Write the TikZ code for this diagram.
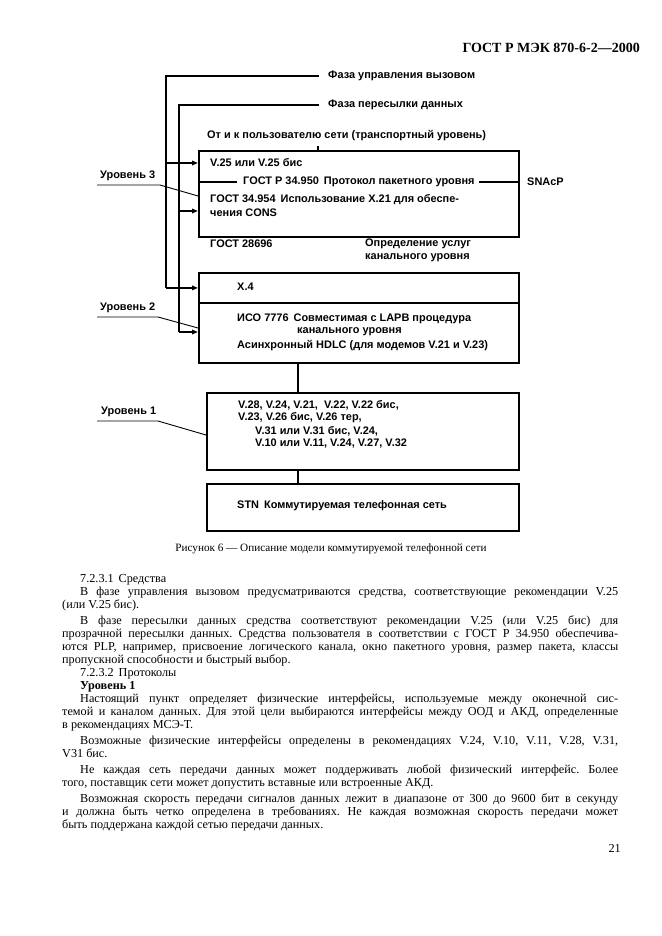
\documentclass[tikz,border=0pt]{standalone}
\usepackage{fontspec}
\setmainfont{Liberation Serif}[WordSpace={1,1.6,1.8}]
\newfontfamily\dsans{Liberation Sans}
\usetikzlibrary{arrows.meta}
\frenchspacing
\begin{document}
\begin{tikzpicture}[x=1pt,y=-1pt,
  boxnode/.style={draw, line width=1.8pt, anchor=north west, inner sep=0pt},
  dtxt/.style={font=\dsans\bfseries\fontsize{10.95}{13}\selectfont, inner sep=0pt, anchor=west},
  btxt/.style={font=\fontsize{12.2}{13}\selectfont, inner sep=0pt, anchor=base west},
  wire/.style={line width=1.6pt},
  arr/.style={line width=1.6pt, -{Triangle[length=6pt,width=4.5pt]}},
  lvl/.style={line width=0.9pt}]
\useasboundingbox (0,0) rectangle (661,936);
\fill[white] (0,0) rectangle (661,936);

% header
\node[font=\bfseries\fontsize{14}{16}\selectfont, inner sep=0pt, anchor=base east] (hdr) at (640,53) {ГОСТ Р МЭК 870-6-2—2000};

% boxes
\node[boxnode, minimum width=320pt, minimum height=86pt] (b1) at (198,150) {};
\node[boxnode, minimum width=320pt, minimum height=30pt] (b2a) at (198,272) {};
\node[boxnode, minimum width=320pt, minimum height=60pt] (b2b) at (198,302) {};
\node[boxnode, minimum width=312pt, minimum height=77pt] (b3) at (206,392) {};
\node[boxnode, minimum width=312pt, minimum height=47pt] (b4) at (206,483) {};

% phase labels
\node[dtxt] (ph1) at (328,76) {Фаза управления вызовом};
\node[dtxt] (ph2) at (328,105) {Фаза пересылки данных};
\node[dtxt] (tr) at (207,136) {От и к пользователю сети (транспортный уровень)};

% box 1 text
\node[dtxt] (v25) at (210,163) {V.25 или V.25 бис};
\node[dtxt] (g950) at (243,182) {ГОСТ Р 34.950\hspace{5pt}Протокол пакетного уровня};
\node[dtxt] (snacp) at (527,182) {SNAcP};
\node[dtxt] (g954) at (210,200) {ГОСТ 34.954\hspace{5pt}Использование X.21 для обеспе-};
\node[dtxt] (cons) at (210,213) {чения CONS};

% between
\node[dtxt] (g286) at (210,244) {ГОСТ 28696};
\node[dtxt] (opr1) at (365,244) {Определение услуг};
\node[dtxt] (opr2) at (365,258) {канального уровня};

% box 2 text
\node[dtxt] (x4) at (237,287) {X.4};
\node[dtxt] (iso) at (237,319) {ИСО 7776\hspace{5pt}Совместимая с LAPB процедура};
\node[dtxt] (kan) at (297,332) {канального уровня};
\node[dtxt] (asy) at (237,346) {Асинхронный HDLC (для модемов V.21 и V.23)};

% box 3 text
\node[dtxt] (r1) at (238,405) {V.28, V.24, V.21,\ \ V.22, V.22 бис,};
\node[dtxt] (r2) at (238,418) {V.23, V.26 бис, V.26 тер,};
\node[dtxt] (r3) at (255,431) {V.31 или V.31 бис, V.24,};
\node[dtxt] (r4) at (255,444) {V.10 или V.11, V.24, V.27, V.32};

% box 4 text
\node[dtxt] (stn) at (237,506) {STN\hspace{5pt}Коммутируемая телефонная сеть};

% level labels
\node[dtxt] (l3) at (100,176) {Уровень 3};
\node[dtxt] (l2) at (100,308) {Уровень 2};
\node[dtxt] (l1) at (101,412) {Уровень 1};

% phase wires
\coordinate (c1) at (166,76);
\coordinate (c2) at (179,105);
\draw[wire] ([xshift=-9pt]ph1.west) -- (c1) -- (c1 |- b2a.west);
\draw[arr] (c1 |- b2a.west) -- (b2a.west);
\draw[arr] (c1 |- v25.west) -- (b1.west |- v25.west);
\draw[wire] ([xshift=-9pt]ph2.west) -- (c2) -- (c2 |- 0,332);
\draw[arr] (c2 |- 0,332) -- (b2b.west |- 0,332);
\draw[arr] (c2 |- 0,211) -- (b1.west |- 0,211);

% tick to box 1
\draw[wire] (tr.south -| 318,0) ++(0,5) -- (b1.north -| 318,0);

% internal protocol line
\draw[wire] (b1.west |- g950.west) -- ([xshift=-6pt]g950.west);
\draw[wire] ([xshift=4pt]g950.east) -- (b1.east |- g950.east);

% level leader lines
\draw[lvl] (97,185) -- (160,185) -- (b1.west |- 0,196);
\draw[lvl] (97,317) -- (158,317) -- (b2b.west |- 0,328);
\draw[lvl] (97,421) -- (158,421) -- (b3.west |- 0,435);

% vertical connectors
\draw[wire] (b2b.south -| 298,0) -- (b3.north -| 298,0);
\draw[wire] (b3.south -| 298,0) -- (b4.north -| 298,0);

% caption
\node[font=\fontsize{11.2}{13}\selectfont, inner sep=0pt, anchor=base] (cap) at (331,551) {Рисунок 6 — Описание модели коммутируемой телефонной сети};

% body text
\node[btxt] (p1) at (80,582) {7.2.3.1\hspace{5pt}Средства};
\node[btxt] (p2) at (80,595) {\makebox[538pt][s]{В фазе управления вызовом предусматриваются средства, соответствующие рекомендации V.25}};
\node[btxt] (p3) at (62,608) {(или V.25 бис).};
\node[btxt] (p4) at (80,624) {\makebox[538pt][s]{В фазе пересылки данных средства соответствуют рекомендации V.25 (или V.25 бис) для}};
\node[btxt] (p5) at (62,637) {\makebox[556pt][s]{прозрачной пересылки данных. Средства пользователя в соответствии с ГОСТ Р 34.950 обеспечива-}};
\node[btxt] (p6) at (62,650) {\makebox[556pt][s]{ются PLP, например, присвоение логического канала, окно пакетного уровня, размер пакета, классы}};
\node[btxt] (p7) at (62,663) {пропускной способности и быстрый выбор.};
\node[btxt] (p8) at (80,676) {7.2.3.2\hspace{5pt}Протоколы};
\node[btxt, font=\bfseries\fontsize{12.2}{13}\selectfont] (p9) at (80,689) {Уровень 1};
\node[btxt] (p10) at (80,702) {\makebox[538pt][s]{Настоящий пункт определяет физические интерфейсы, используемые между оконечной сис-}};
\node[btxt] (p11) at (62,715) {\makebox[556pt][s]{темой и каналом данных. Для этой цели выбираются интерфейсы между ООД и АКД, определенные}};
\node[btxt] (p12) at (62,728) {в рекомендациях МСЭ-Т.};
\node[btxt] (p13) at (80,744) {\makebox[538pt][s]{Возможные физические интерфейсы определены в рекомендациях V.24, V.10, V.11, V.28, V.31,}};
\node[btxt] (p14) at (62,757) {V31 бис.};
\node[btxt] (p15) at (80,773) {\makebox[538pt][s]{Не каждая сеть передачи данных может поддерживать любой физический интерфейс. Более}};
\node[btxt] (p16) at (62,786) {того, поставщик сети может допустить вставные или встроенные АКД.};
\node[btxt] (p17) at (80,802) {\makebox[538pt][s]{Возможная скорость передачи сигналов данных лежит в диапазоне от 300 до 9600 бит в секунду}};
\node[btxt] (p18) at (62,815) {\makebox[556pt][s]{и должна быть четко определена в требованиях. Не каждая возможная скорость передачи может}};
\node[btxt] (p19) at (62,828) {быть поддержана каждой сетью передачи данных.};

\node[font=\fontsize{12.2}{13}\selectfont, inner sep=0pt, anchor=base east] (pg) at (621,852) {21};
\end{tikzpicture}
\end{document}
